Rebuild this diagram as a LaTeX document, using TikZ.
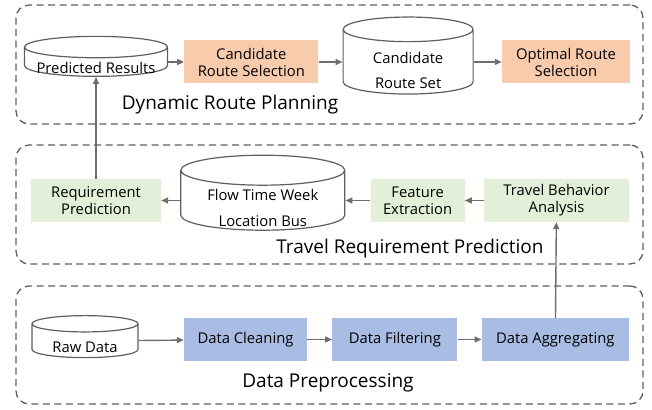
\documentclass[tikz,border=0pt]{standalone}
\usepackage{fontspec}
\setmainfont{Open Sans}
\usetikzlibrary{arrows.meta,positioning,shapes.geometric}
\definecolor{orangebox}{HTML}{F8CBAD}
\definecolor{greenbox}{HTML}{E2F0D9}
\definecolor{bluebox}{HTML}{A9BCE3}
\definecolor{linegray}{HTML}{5F5F5F}
\definecolor{arrowgray}{HTML}{6E6E6E}
% text of a cylinder, set lower so that it sits in the body
\newcommand{\dbtext}[2]{\raisebox{-#1}[0pt][0pt]{\begin{tabular}{@{}c@{}}#2\end{tabular}}}

\begin{document}
\begin{tikzpicture}[
  x=1pt, y=-1pt,
  font=\fontsize{14.8}{17}\selectfont,
  group/.style={draw=linegray, dash pattern=on 7pt off 4.5pt, rounded corners=13pt, line width=1.3pt, minimum width=627pt},
  grouplabel/.style={font=\fontsize{19}{22}\selectfont},
  db/.style={cylinder, shape border rotate=90, draw=linegray, fill=white, line width=1.2pt, inner sep=0pt},
  box/.style={align=center, inner sep=0pt, minimum height=43pt},
  arr/.style={-{Triangle[length=7pt,width=6pt]}, draw=arrowgray, line width=1.4pt}
]
\useasboundingbox (0,0) rectangle (652,409);

% the three stages
\node[group, minimum height=119pt] (plan) at (329.5,64.5) {};
\node[group, minimum height=119pt] (travel) at (329.5,204.5) {};
\node[group, minimum height=118pt] (prep) at (329.5,345) {};
\node[grouplabel] (planlabel) at (230,105) {Dynamic Route Planning};
\node[grouplabel] (travellabel) at (410,249) {Travel Requirement Prediction};
\node[grouplabel] (preplabel) at (328,383) {Data Preprocessing};

% dynamic route planning
\node[db, minimum width=143pt, minimum height=40pt, aspect=0.18] (pr) at (96,62) {\dbtext{11.6pt}{Predicted Results}};
\node[box, fill=orangebox, minimum width=134pt, right=16pt of pr] (crs) {Candidate\\Route Selection};
\node[db, minimum width=130pt, minimum height=77pt, aspect=0.35, right=24pt of crs] (set) {\dbtext{14.6pt}{Candidate\\[8pt]Route Set}};
\node[box, fill=orangebox, minimum width=128pt, right=28pt of set] (opt) {Optimal Route\\Selection};

% travel requirement prediction
\node[box, fill=greenbox, minimum width=130pt] (req) at (96,200.5) {Requirement\\Prediction};
\node[db, minimum width=164pt, minimum height=75pt, aspect=0.27, right=19pt of req] (flow) {\dbtext{13.1pt}{Flow Time Week\\[9pt]Location Bus}};
\node[box, fill=greenbox, minimum width=94pt, right=25pt of flow] (fe) {Feature\\Extraction};
\node[box, fill=greenbox, minimum width=145pt, right=19pt of fe] (tba) {Travel Behavior\\Analysis};

% data preprocessing
\node[db, minimum width=106pt, minimum height=42pt, aspect=0.25] (raw) at (85,341) {\dbtext{11.6pt}{Raw Data}};
\node[box, fill=bluebox, minimum width=123pt] (clean) at (245.5,339.5) {Data Cleaning};
\node[box, fill=bluebox, minimum width=125pt, right=25pt of clean] (filt) {Data Filtering};
\node[box, fill=bluebox, minimum width=147pt, right=24pt of filt] (agg) {Data Aggregating};

\draw[arr] (raw) -- (clean);
\draw[arr] (clean) -- (filt);
\draw[arr] (filt) -- (agg);
\draw[arr] (agg) -- (tba);
\draw[arr] (tba) -- (fe);
\draw[arr] (fe) -- (flow);
\draw[arr] (flow) -- (req);
\draw[arr] (req) -- (pr);
\draw[arr] (pr) -- (crs);
\draw[arr] (crs) -- (set);
\draw[arr] (set) -- (opt);
\end{tikzpicture}
\end{document}
